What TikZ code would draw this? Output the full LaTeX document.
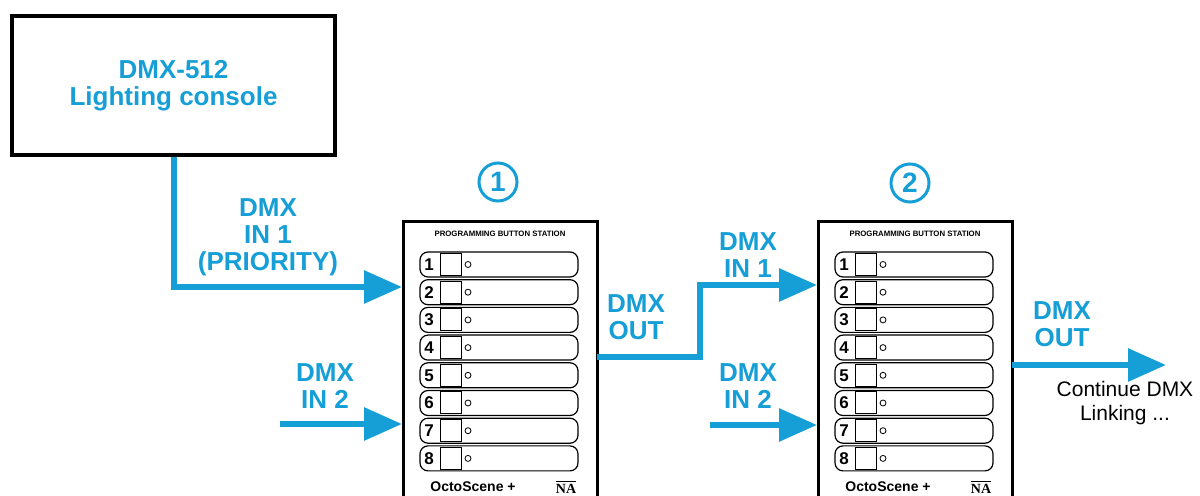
\documentclass[tikz,border=0pt]{standalone}
\usepackage{fontspec}
\setmainfont{Liberation Sans}
\newfontfamily\logofont{Liberation Serif}
\usetikzlibrary{arrows.meta}
\definecolor{dmxblue}{RGB}{22,158,214}
\tikzset{
	dmxline/.style={draw=dmxblue, line width=3pt},
	dmxarrow/.style={dmxline, -{Triangle[length=19pt,width=16pt]}},
	dmxlabel/.style={text=dmxblue, font=\bfseries\fontsize{13}{13.5}\selectfont, align=center},
	titulo/.style={font=\bfseries\fontsize{3.9}{4}\selectfont, inner sep=0pt},
	botao/.style={line width=0.6pt, rounded corners=4pt},
	digito/.style={font=\bfseries\fontsize{8.5}{8.5}\selectfont, inner sep=0pt},
	numero/.style={circle, draw=dmxblue, line width=1.5pt, minimum size=19pt, inner sep=0pt,
		text=dmxblue, font=\bfseries\fontsize{14}{14}\selectfont}
}
%Estacao de botoes (canto superior esquerdo, nome)
\newcommand{\estacao}[2]{%
	\begin{scope}[shift={#1}]
		\draw[line width=1.5pt] (0,274) -- (0,0) -- (194,0) -- (194,274); %Caixa
		\node[titulo] (#2titulo) at (97,12) {PROGRAMMING BUTTON STATION};
		\foreach \i in {1,...,8}{
			\pgfmathsetmacro\yy{30+27.7*(\i-1)}
			\draw[botao] (17,\yy) rectangle (175,\yy+25); %Botao
			\node[digito] (#2d\i) at (26,\yy+12.5) {\i};
			\draw[line width=0.5pt] (37,\yy+1.5) rectangle (58,\yy+23.5); %Quadrado
			\draw[line width=0.4pt] (65,\yy+12.5) circle (1.5pt); %Led
		}
		\node[font=\bfseries\fontsize{7}{7}\selectfont] (#2marca) at (70,265) {OctoScene +};
		\node[font=\fontsize{7}{7}\selectfont] (#2logo) at (163,265) {$\overline{\hbox{\logofont\bfseries NA}}$};
	\end{scope}}
\begin{document}
\begin{tikzpicture}[x=0.5pt, y=-0.5pt]
	\useasboundingbox (0,0) rectangle (1200,496);
		%Console
	\node[draw, line width=1.8pt, minimum width=161.5pt, minimum height=69.5pt, align=center,
		text=dmxblue, font=\bfseries\fontsize{13}{13.5}\selectfont] (console) at (173.5,85.5)
		{DMX-512\\Lighting console};
		%Estacoes
	\estacao{(403,222)}{st1}
	\estacao{(818,222)}{st2}
	\node[numero] (num1) at (498,182) {1};
	\node[numero] (num2) at (910,183) {2};
		%Pontos de ligacao
	\coordinate (st1in1) at (402,287);
	\coordinate (st1in2) at (402,424);
	\coordinate (st1out) at (597,357);
	\coordinate (st2in1) at (817,285);
	\coordinate (st2in2) at (817,425);
	\coordinate (st2out) at (1012,365);
	\coordinate (src2a) at (280,424);
	\coordinate (src2b) at (710,425);
	\coordinate (next) at (1166,365);
		%Ligacoes DMX
	\draw[dmxarrow] (console.south) |- (st1in1);
	\draw[dmxarrow] (src2a) -- (st1in2);
	\draw[dmxarrow] (st1out) -- ++(103,0) |- (st2in1);
	\draw[dmxarrow] (src2b) -- (st2in2);
	\draw[dmxarrow] (st2out) -- (next);
		%Textos
	\node[dmxlabel] (lbin1) at (268,237) {DMX\\IN 1\\(PRIORITY)};
	\node[dmxlabel] (lbin2) at (325,386) {DMX\\IN 2};
	\node[dmxlabel] (lbout1) at (636,317) {DMX\\OUT};
	\node[dmxlabel] (lbin3) at (748,255) {DMX\\IN 1};
	\node[dmxlabel] (lbin4) at (748,386) {DMX\\IN 2};
	\node[dmxlabel] (lbout2) at (1062,324) {DMX\\OUT};
	\node[font=\fontsize{10.5}{12}\selectfont, align=center] (cont) at (1125,403) {Continue DMX\\Linking ...};
\end{tikzpicture}
\end{document}
